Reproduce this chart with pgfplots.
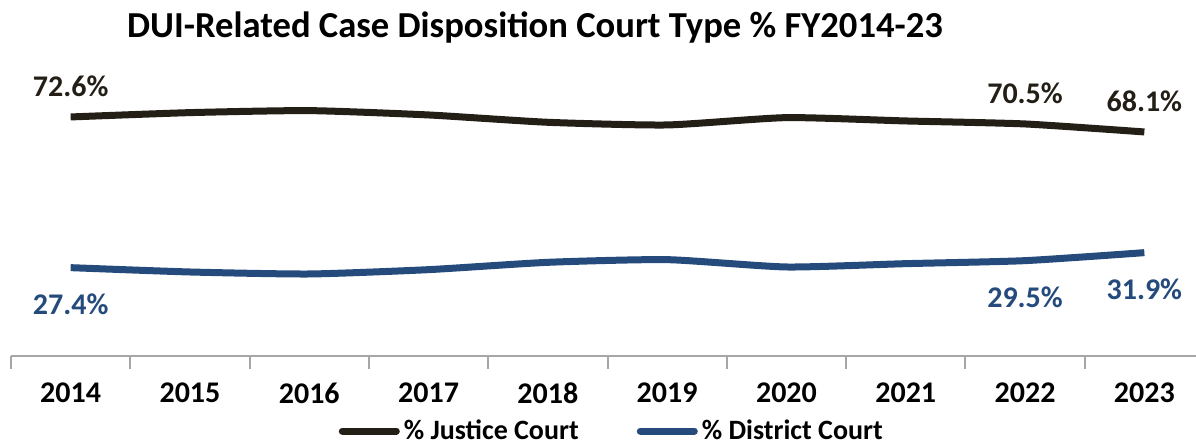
\documentclass[border=0pt]{standalone}
\usepackage{fontspec}
\setmainfont{Carlito}
\usepackage{pgfplots}
\pgfplotsset{compat=1.18}
\usetikzlibrary{calc}
\definecolor{justice}{HTML}{231F16}
\definecolor{district}{HTML}{254A7C}
\definecolor{axisgray}{HTML}{A6A6A6}

\pgfplotstableread{
x justice district jlab dlab
0 72.6 27.4 72.6\% 27.4\%
1 73.9 26.1 {} {}
2 74.5 25.5 {} {}
3 73.2 26.8 {} {}
4 71.0 29.0 {} {}
5 70.2 29.8 {} {}
6 72.4 27.6 {} {}
7 71.4 28.6 {} {}
8 70.5 29.5 70.5\% 29.5\%
9 68.1 31.9 68.1\% 31.9\%
}\courttype

\begin{document}
\begin{tikzpicture}[font=\bfseries]
\begin{axis}[
    name=ax,
    x=59.65pt, y=1.667pt,
    xmin=-0.5, xmax=9.43,
    ymin=0.9, ymax=80.9,
    clip=false,
    axis x line=bottom,
    axis y line=none,
    axis line style={axisgray, line width=1pt, -},
    xtick={0,...,9},
    xticklabels={2014,2015,2016,2017,2018,2019,2020,2021,2022,2023},
    major tick length=0pt,
    minor xtick={-0.5,0.5,...,8.5},
    minor tick length=6.5pt,
    tick align=outside,
    minor tick style={axisgray, line width=1pt},
    xticklabel style={font=\fontsize{15}{15}\selectfont\bfseries, anchor=center, yshift=-18.5pt},
    legend style={at={(axis description cs:0.508,0)}, anchor=center, yshift=-37.5pt,
        draw=none, fill=none, font=\fontsize{14}{14}\selectfont\bfseries,
        legend columns=2, /tikz/every even column/.append style={column sep=27pt},
        inner sep=0pt},
    legend image code/.code={\draw[#1, line cap=round] (0pt,0pt) -- (27pt,0pt);},
    every axis plot/.append style={line width=3.5pt, smooth, tension=0.35},
]
\addplot[justice] table[x=x, y=justice] {\courttype};
\addlegendentry{\% Justice Court}
\addplot[district] table[x=x, y=district] {\courttype};
\addlegendentry{\% District Court}
\addplot[draw=none, mark=none, forget plot, nodes near coords, point meta=explicit symbolic,
    nodes near coords style={anchor=center, yshift=15.5pt, text=justice, font=\fontsize{15}{15}\selectfont\bfseries}]
    table[x=x, y=justice, meta=jlab] {\courttype};
\addplot[draw=none, mark=none, forget plot, nodes near coords, point meta=explicit symbolic,
    nodes near coords style={anchor=center, yshift=-18.5pt, text=district, font=\fontsize{15}{15}\selectfont\bfseries}]
    table[x=x, y=district, meta=dlab] {\courttype};
\end{axis}
\node[font=\fontsize{18.3}{18.3}\selectfont\bfseries, anchor=center] at ($(ax.south west)+(262pt,164pt)$)
    {DUI-Related Case Disposition Court Type \% FY2014-23};
\pgfresetboundingbox
\path ($(ax.south west)+(-5.5pt,-45pt)$) rectangle ++(598pt,223pt);
\end{tikzpicture}
\end{document}
